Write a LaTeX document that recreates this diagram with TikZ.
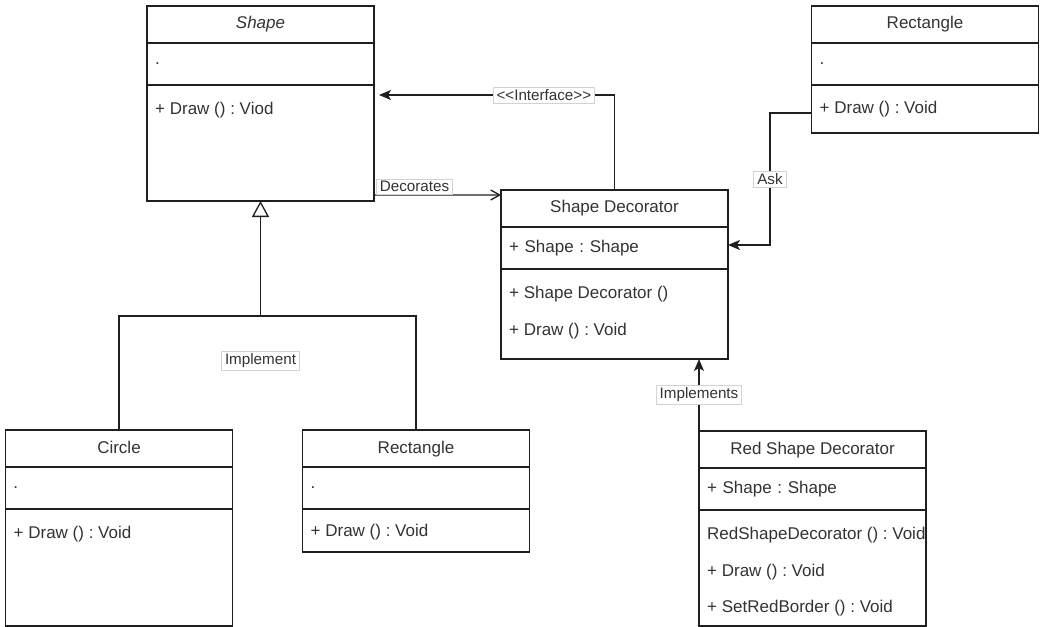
\documentclass[tikz,border=0pt]{standalone}
\usepackage{fontspec}
\setmainfont{Liberation Sans}
\usepackage{xcolor}
\definecolor{ink}{HTML}{333333}
\definecolor{linegray}{HTML}{1F1F1F}
\definecolor{tagline}{HTML}{D2D2D2}
\usetikzlibrary{arrows.meta,positioning,calc}
\frenchspacing
\newcommand{\umlfont}{\fontsize{17bp}{20bp}\selectfont}
\newcommand{\tagfont}{\fontsize{15.2bp}{18bp}\selectfont}
\tikzset{
  >={Stealth[length=12bp,width=10bp,inset=3bp]},
  umlhead/.style={draw=linegray,fill=white,line width=1.3bp,outer sep=0pt,
                  minimum width=227bp,minimum height=37bp,font=\umlfont,text=ink,
                  text height=12.5bp,text depth=3.5bp},
  umlattr/.style={draw=linegray,line width=1.3bp,outer sep=0pt,minimum height=42bp,
                  text width=211bp,inner xsep=8bp,align=left,font=\umlfont,text=ink},
  umlmeth/.style={draw=linegray,line width=1.3bp,outer sep=0pt,minimum width=227bp},
  umlitem/.style={anchor=west,inner sep=0pt,font=\umlfont,text=ink},
  umltag/.style ={draw=tagline,fill=white,line width=0.8bp,font=\tagfont,text=ink,
                  inner xsep=3.5bp,inner ysep=2.5bp},
  wire/.style   ={draw=linegray,line width=1.3bp},
  openhead/.style={wire,-{Straight Barb[length=9bp,width=10bp]}},
  inherit/.style={wire,-{Triangle[open,length=16bp,width=17bp]}},
}

\begin{document}
\begin{tikzpicture}[x=1bp,y=-1bp]
\useasboundingbox (0,0) rectangle (1041,627);

% abstract shape
\node[umlhead] (shp) at (260.5,24.5) {\textit{Shape}};
\node[umlattr,below=0pt of shp] (shpa) {.};
\node[umlmeth,below=0pt of shpa,minimum height=116bp] (shpm) {};
\node[umlitem] at ($(shpm.north west)+(8,25)$) {+ Draw () : Viod};

% rectangle, top right
\node[umlhead] (rtop) at (925,24.5) {Rectangle};
\node[umlattr,below=0pt of rtop] (rtopa) {.};
\node[umlmeth,below=0pt of rtopa,minimum height=48bp] (rtopm) {};
\node[umlitem] at ($(rtopm.north west)+(8,24)$) {+ Draw () : Void};

% decorator
\node[umlhead] (dec) at (614.5,208.5) {Shape Decorator};
\node[umlattr,below=0pt of dec] (deca) {+ Shape : Shape};
\node[umlmeth,below=0pt of deca,minimum height=90bp] (decm) {};
\node[umlitem] at ($(decm.north west)+(8,25)$) {+ Shape Decorator ()};
\node[umlitem] at ($(decm.north west)+(8,62)$) {+ Draw () : Void};

% concrete shapes
\node[umlhead] (circ) at (119,448.5) {Circle};
\node[umlattr,below=0pt of circ] (circa) {.};
\node[umlmeth,below=0pt of circa,minimum height=117bp] (circm) {};
\node[umlitem] at ($(circm.north west)+(8,25)$) {+ Draw () : Void};

\node[umlhead] (rbot) at (416,448.5) {Rectangle};
\node[umlattr,below=0pt of rbot] (rbota) {.};
\node[umlmeth,below=0pt of rbota,minimum height=43bp] (rbotm) {};
\node[umlitem] at ($(rbotm.north west)+(8,23)$) {+ Draw () : Void};

% red decorator
\node[umlhead] (red) at (812.5,449.5) {Red Shape Decorator};
\node[umlattr,below=0pt of red] (reda) {+ Shape : Shape};
\node[umlmeth,below=0pt of reda,minimum height=116bp] (redm) {};
\begin{scope}
  \clip (redm.north west) rectangle (redm.south east);
  \node[umlitem] at ($(redm.north west)+(8,25)$) {RedShapeDecorator () : Void};
\end{scope}
\node[umlitem] at ($(redm.north west)+(8,62)$) {+ Draw () : Void};
\node[umlitem] at ($(redm.north west)+(8,98)$) {+ SetRedBorder () : Void};

% connectors
\coordinate (bus) at (260.5,316);
\draw[wire] (circ.north) |- (bus) -| (rbot.north);
\draw[inherit] (bus) -- (shpm.south);
\node[umltag] (impl) at ($(bus)+(0,45)$) {Implement};

\draw[wire,->] (dec.north) |- node[umltag,pos=0.65]{{<}{<}Interface{>}{>}}
  ($(shpm.north east)+(5,10)$);
\draw[openhead] ($(shpm.south east)+(0,-6)$) --
  node[umltag,pos=0,anchor=south west,xshift=2bp]{Decorates} ($(dec.north west)+(0,5)$);
\draw[wire,->] ($(rtopm.west)+(0,4)$) -| node[umltag,pos=0.75]{Ask}
  ($(deca.east)+(42,-3)$) -- ($(deca.east)+(0,-3)$);
\draw[wire,->] (red.north west) -- node[umltag]{Implements} (red.north west |- decm.south);
\end{tikzpicture}
\end{document}
